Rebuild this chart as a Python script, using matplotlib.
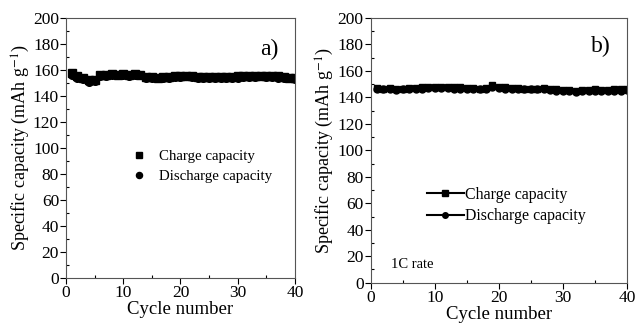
import numpy as np
import matplotlib
matplotlib.use("Agg")
import matplotlib.pyplot as plt
from matplotlib.ticker import MultipleLocator

plt.rcParams['font.family'] = ['Liberation Serif', 'DejaVu Serif']
plt.rcParams['mathtext.fontset'] = 'stix'

cycles = list(range(1, 41))

# panel a
charge_a = [158, 155, 154, 152, 152, 156, 156, 157, 156.5, 157,
            156, 157, 156.5, 154.5, 154.5, 154, 154.5, 154.5, 155, 155.5,
            155.5, 155, 154.5, 154.5, 154.5, 154.5, 154.5, 154.5, 154.5, 155,
            155.5, 155, 155.5, 155.5, 155.5, 155, 155, 154.5, 154, 153.5]
discharge_a = [156, 154, 153, 151, 151.5, 155, 155.5, 156, 156, 156,
               155.5, 156, 156, 153.5, 153.5, 153.5, 154, 154, 154.5, 154.5,
               155, 154.5, 153.5, 153.5, 153.5, 154, 153.5, 153.5, 154, 154,
               154.5, 154.5, 154.5, 155, 154.5, 154.5, 154, 153.5, 153.5, 153]

# panel b
charge_b = [147, 146.5, 147, 146, 146.5, 147, 147, 147.5, 147.5, 148,
            148, 147.5, 147.5, 147.5, 147, 147, 146.5, 147, 149, 147.5,
            147.5, 147, 147, 146.5, 146.5, 146.5, 147, 146, 146, 145.5,
            145.5, 145, 145.5, 145.5, 146, 145.5, 145.5, 146, 146, 146.5]
discharge_b = [146, 146, 146, 145.5, 146, 146.5, 146.5, 146.5, 147, 147,
               147, 147, 146.5, 146.5, 146.5, 146, 146, 146.5, 147.5, 147,
               146.5, 146.5, 146, 146, 146, 146, 146, 145.5, 145, 144.5,
               144.5, 144, 144.5, 144.5, 145, 144.5, 144.5, 145, 145, 145.5]

ylabel = 'Specific capacity (mAh g$^{-1}$)'

fig = plt.figure(figsize=(6.38, 3.23), dpi=100)
ax1 = fig.add_axes([0.1034, 0.1393, 0.359, 0.805])
ax2 = fig.add_axes([0.581, 0.1248, 0.4017, 0.8195])


def style_axes(ax):
    ax.set_xlim(0, 40)
    ax.set_ylim(0, 200)
    ax.xaxis.set_major_locator(MultipleLocator(10))
    ax.xaxis.set_minor_locator(MultipleLocator(5))
    ax.yaxis.set_major_locator(MultipleLocator(20))
    ax.yaxis.set_minor_locator(MultipleLocator(10))
    ax.tick_params(which='major', direction='out', length=4, width=0.8,
                   labelsize=12.5, pad=1, top=False, right=False)
    ax.tick_params(which='minor', direction='in', length=2, width=0.8,
                   top=False, right=False)
    for s in ax.spines.values():
        s.set_linewidth(0.8)
        s.set_color('#555555')
    ax.set_xlabel('Cycle number', fontsize=13.5, labelpad=0)
    ax.set_ylabel(ylabel, fontsize=13, labelpad=1)


# left panel
ax1.plot(cycles, charge_a, 's', color='black', ms=5.5, label='Charge capacity')
ax1.plot(cycles, discharge_a, 'o', color='black', ms=5.5, label='Discharge capacity')
style_axes(ax1)
ax1.text(0.93, 0.88, 'a)', transform=ax1.transAxes, fontsize=17,
         ha='right', va='center')
ax1.legend(loc='upper left', bbox_to_anchor=(0.21, 0.545), frameon=False,
           fontsize=10.7, handletextpad=0.6, labelspacing=0.42, handlelength=1.5,
           markerscale=0.8)

# right panel
ax2.plot(cycles, charge_b, 's-', color='black', ms=5, lw=1.5, label='Charge capacity')
ax2.plot(cycles, discharge_b, 'o-', color='black', ms=5, lw=1.5, label='Discharge capacity')
style_axes(ax2)
ax2.text(0.935, 0.894, 'b)', transform=ax2.transAxes, fontsize=17,
         ha='right', va='center')
ax2.text(0.08, 0.07, '1C rate', transform=ax2.transAxes, fontsize=10.5,
         ha='left', va='center')
ax2.legend(loc='upper left', bbox_to_anchor=(0.165, 0.417), frameon=False,
           fontsize=11.4, handletextpad=0.1, labelspacing=0.35, handlelength=2.3,
           markerscale=0.8)

fig.savefig('out.png', dpi=100)
